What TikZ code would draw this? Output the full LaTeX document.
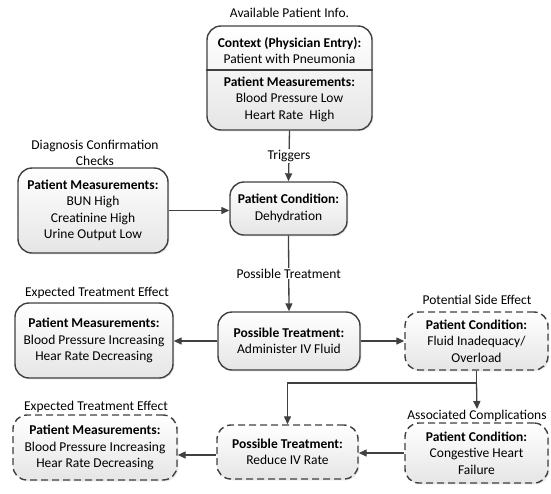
\documentclass[tikz,border=0pt]{standalone}
\usepackage{fontspec}
\setmainfont{Carlito}
\usetikzlibrary{arrows.meta,shadows}
\definecolor{edge}{HTML}{404040}
\newcommand\bodyfont{\fontsize{13.5}{16.5}\selectfont}
\tikzset{
  box/.style={draw=edge, line width=1.4pt, rounded corners=14pt,
    top color=white, bottom color=black!10,
    drop shadow={opacity=0.18, shadow xshift=1.3pt, shadow yshift=-1.3pt},
    align=center, inner sep=0pt, font=\bodyfont},
  dbox/.style={box, dash pattern=on 7pt off 4pt},
  tag/.style={align=center, font=\bodyfont, inner sep=1pt},
  wire/.style={draw=edge, line width=1.3pt},
  link/.style={wire, -{Triangle[length=8pt,width=7pt]}},
}
\begin{document}
\begin{tikzpicture}[x=1pt, y=-1pt]
\useasboundingbox (0,0) rectangle (551,493);

% --- top: available information ---
\node[tag] (infotag) at (289.5,13) {Available Patient Info.};
\node[box, minimum width=165pt, minimum height=104pt] (info) at (289.5,78) {};
\node[tag] (ctx) at (289.5,50.5) {\textbf{Context (Physician Entry):}\\Patient with Pneumonia};
\node[tag] (meas) at (289.5,99) {\textbf{Patient Measurements:}\\Blood Pressure Low\\Heart Rate\ \ High};
\draw[wire] (info.west |- 0,70) -- (info.east |- 0,70);

% --- diagnosis ---
\node[tag] (bunTag) at (95,153) {Diagnosis Confirmation\\Checks};
\node[box, minimum width=150pt, minimum height=85pt] (bun) at (93,210.5)
  {\textbf{Patient Measurements:}\\BUN High\\Creatinine High\\Urine Output Low};
\node[box, minimum width=117pt, minimum height=53pt] (deh) at (288.5,208.5)
  {\textbf{Patient Condition:}\\Dehydration};

% --- first treatment ---
\node[box, minimum width=142pt, minimum height=58pt] (admin) at (289,341)
  {\textbf{Possible Treatment:}\\Administer IV Fluid};
\node[tag] (exp1tag) at (97,293) {Expected Treatment Effect};
\node[box, minimum width=158pt, minimum height=75pt] (exp1) at (94,340.5)
  {\textbf{Patient Measurements:}\\Blood Pressure Increasing\\Hear Rate Decreasing};
\node[tag] (fluidtag) at (477,300) {Potential Side Effect};
\node[dbox, minimum width=143pt, minimum height=58pt] (fluid) at (476.5,341)
  {\textbf{Patient Condition:}\\Fluid Inadequacy/\\Overload};

% --- complications and second treatment ---
\node[tag] (comptag) at (477,416) {Associated Complications};
\node[dbox, minimum width=143pt, minimum height=60pt] (comp) at (476.5,453)
  {\textbf{Patient Condition:}\\Congestive Heart\\Failure};
\node[dbox, minimum width=141pt, minimum height=54pt] (reduce) at (287.5,452)
  {\textbf{Possible Treatment:}\\Reduce IV Rate};
\node[tag] (exp2tag) at (96,407) {Expected Treatment Effect};
\node[dbox, minimum width=164pt, minimum height=65pt] (exp2) at (95,447.5)
  {\textbf{Patient Measurements:}\\Blood Pressure Increasing\\Hear Rate Decreasing};

% --- connectors ---
\draw[link] (info.south) -- node[tag, fill=white] (trig) {Triggers} (deh.north);
\draw[link] (bun.east) -- (bun.east -| deh.west);
\draw[link] (deh.south) -- node[tag, fill=white] (ptreat) {Possible Treatment} (admin.north);
\draw[link] (admin.west) -- (admin.west -| exp1.east);
\draw[link] (admin.east) -- (admin.east -| fluid.west);
\coordinate (split) at (fluid.south |- 0,383);
\draw[wire] (fluid.south) -- (split);
\draw[link] (split) -- (comptag.north);
\draw[link] (split) -| (reduce.north);
\draw[link] (comp.west) -- (comp.west -| reduce.east);
\draw[link] (reduce.west |- 0,455) -- (exp2.east |- 0,455);
\end{tikzpicture}
\end{document}
